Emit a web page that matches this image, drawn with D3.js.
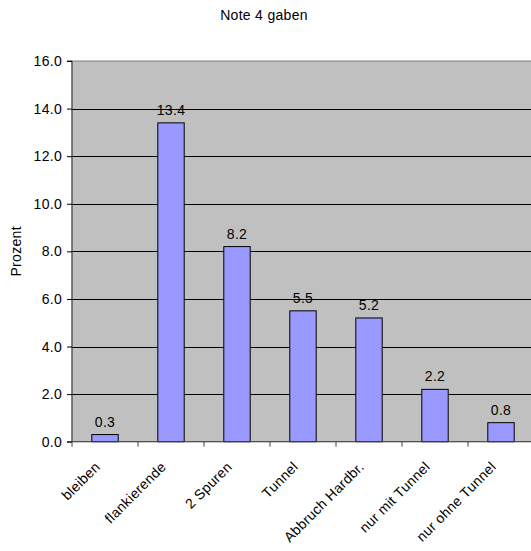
<!DOCTYPE html>
<html>
<head>
<meta charset="utf-8">
<script src="https://cdn.jsdelivr.net/npm/d3@7"></script>
<style>
  body { margin: 0; background: #fff; }
  text { font-family: "Liberation Sans", Arial, sans-serif; letter-spacing: 0.3px; }
</style>
</head>
<body>
<svg id="canvas" width="531" height="551"></svg>
<script>
let categories = ['bleiben', 'flankierende', '2 Spuren', 'Tunnel', 'Abbruch Hardbr.', 'nur mit Tunnel', 'nur ohne Tunnel'];
let values = [0.3, 13.4, 8.2, 5.5, 5.2, 2.2, 0.8];
let yTicks = [0, 2, 4, 6, 8, 10, 12, 14, 16];

let canvas = d3.select('#canvas');

let plotLeft = 72, plotRight = 534, plotTop = 61, plotBottom = 441.7;
let fontSize = '14px';

let x = d3.scaleBand()
    .domain(categories)
    .range([plotLeft, plotRight])
    .paddingInner(0.6)
    .paddingOuter(0.3);

let y = d3.scaleLinear()
    .domain([0, 16])
    .range([plotBottom, plotTop]);

// plot background
canvas.append('rect')
    .attr('x', plotLeft)
    .attr('y', plotTop)
    .attr('width', plotRight - plotLeft)
    .attr('height', plotBottom - plotTop)
    .attr('fill', '#c0c0c0')
    .attr('stroke', '#808080')
    .attr('stroke-width', 1);

// gridlines
canvas.selectAll('line.grid')
    .data(yTicks.slice(1, -1))
    .enter()
    .append('line')
    .attr('class', 'grid')
    .attr('x1', plotLeft)
    .attr('x2', plotRight)
    .attr('y1', (d) => Math.round(y(d)) + 0.5)
    .attr('y2', (d) => Math.round(y(d)) + 0.5)
    .attr('stroke', '#000')
    .attr('stroke-width', 1);

// bars
canvas.selectAll('rect.bar')
    .data(values)
    .enter()
    .append('rect')
    .attr('class', 'bar')
    .attr('x', (d, i) => x(categories[i]))
    .attr('y', (d) => y(d))
    .attr('width', x.bandwidth())
    .attr('height', (d) => plotBottom - y(d))
    .attr('fill', '#9999ff')
    .attr('stroke', '#000')
    .attr('stroke-width', 1);

// value labels
canvas.selectAll('text.val')
    .data(values)
    .enter()
    .append('text')
    .attr('class', 'val')
    .attr('x', (d, i) => x(categories[i]) + x.bandwidth() / 2)
    .attr('y', (d) => y(d) - 8)
    .attr('text-anchor', 'middle')
    .attr('font-size', fontSize)
    .attr('fill', '#000')
    .text((d) => d.toFixed(1));

// y axis
let yAxis = d3.axisLeft(y)
    .tickValues(yTicks)
    .tickSize(5)
    .tickFormat(d3.format('.1f'));

let yG = canvas.append('g')
    .attr('transform', 'translate(' + plotLeft + ',0)')
    .call(yAxis);
yG.select('.domain').attr('stroke', '#444').attr('d', 'M-5,' + plotTop + 'H0V' + plotBottom + 'H-5');
yG.selectAll('.tick line').attr('stroke', '#000');
yG.selectAll('.tick text')
    .attr('font-size', fontSize)
    .attr('fill', '#000')
    .attr('x', -10);

// x axis with ticks on category boundaries
let bounds = d3.range(categories.length + 1).map((i) => plotLeft + i * x.step());
canvas.append('line')
    .attr('x1', plotLeft).attr('x2', plotRight)
    .attr('y1', plotBottom).attr('y2', plotBottom)
    .attr('stroke', '#444');
canvas.selectAll('line.xtick')
    .data(bounds)
    .enter()
    .append('line')
    .attr('class', 'xtick')
    .attr('x1', (d) => d).attr('x2', (d) => d)
    .attr('y1', plotBottom).attr('y2', plotBottom + 5)
    .attr('stroke', '#444');

canvas.selectAll('text.xlab')
    .data(categories)
    .enter()
    .append('text')
    .attr('class', 'xlab')
    .attr('text-anchor', 'end')
    .attr('font-size', fontSize)
    .attr('fill', '#000')
    .attr('transform', (d) => 'translate(' + (x(d) + x.bandwidth() / 2 - 4) + ',' + (plotBottom + 26) + ') rotate(-45)')
    .text((d) => d);

// axis title
canvas.append('text')
    .attr('transform', 'translate(21,' + ((plotTop + plotBottom) / 2) + ') rotate(-90)')
    .attr('text-anchor', 'middle')
    .attr('font-size', fontSize)
    .text('Prozent');

// chart title
canvas.append('text')
    .attr('x', 264)
    .attr('y', 20)
    .attr('text-anchor', 'middle')
    .attr('font-size', fontSize)
    .text('Note 4 gaben');
</script>
</body>
</html>
